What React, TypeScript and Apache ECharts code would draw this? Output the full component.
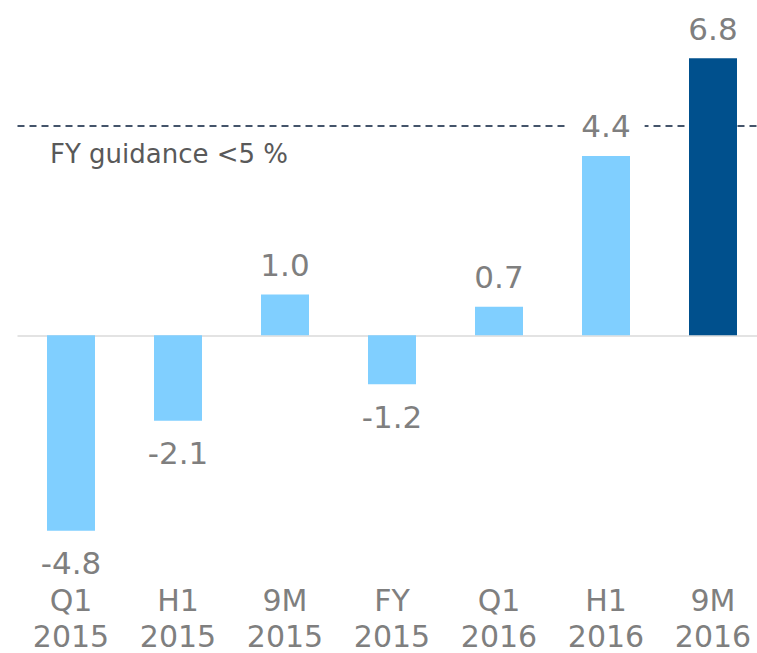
import React, { useEffect, useRef } from "react";
import * as echarts from "echarts";

const categories = ["Q1\n2015", "H1\n2015", "9M\n2015", "FY\n2015", "Q1\n2016", "H1\n2016", "9M\n2016"];
const values = [-4.8, -2.1, 1.0, -1.2, 0.7, 4.4, 6.8];
const highlighted = [false, false, false, false, false, false, true];
const guidanceLevel = 5.15;
const guidanceText = "FY guidance <5 %";

const LIGHT = "#80CFFF";
const DARK = "#00508D";
const FONT = "DejaVu Sans, Verdana, sans-serif";

export default function App() {
  const ref = useRef<HTMLDivElement>(null);
  useEffect(() => {
    if (!ref.current) return;
    const chart = echarts.init(ref.current, undefined, { renderer: "svg" });
    const data = values.map((v, i) => ({
      value: v,
      itemStyle: { color: highlighted[i] ? DARK : LIGHT },
      label: {
        position: v >= 0 ? "top" : "bottom",
        distance: v >= 0 ? 14 : 17,
      },
    }));
    chart.setOption({
      animation: false,
      backgroundColor: "#ffffff",
      grid: {
        left: 17.5,
        top: 50,
        width: 749,
        height: 489,
        containLabel: false,
        outerBoundsMode: "none",
      },
      xAxis: {
        type: "category",
        data: categories,
        axisLine: { show: false, onZero: false },
        axisTick: { show: false },
        splitLine: { show: false },
        axisLabel: {
          color: "#7F7F7F",
          fontFamily: FONT,
          fontSize: 30,
          lineHeight: 36,
          margin: 43,
          interval: 0,
        },
      },
      yAxis: {
        type: "value",
        min: -5,
        max: 7,
        show: false,
        splitLine: { show: false },
      },
      series: [
        {
          type: "line",
          data: [],
          z: 1,
          silent: true,
          markLine: {
            silent: true,
            z: 1,
            symbol: ["none", "none"],
            label: { show: false },
            data: [
              { yAxis: 0, lineStyle: { color: "#E3E3E3", width: 2, type: "solid" } },
              { yAxis: guidanceLevel, lineStyle: { color: "#44546A", width: 2, type: [7, 5] } },
            ],
          },
        },
        {
          type: "bar",
          data,
          barWidth: 48,
          z: 3,
          label: {
            show: true,
            color: "#7F7F7F",
            fontFamily: FONT,
            fontSize: 31,
            backgroundColor: "#ffffff",
            padding: [0, 14],
            formatter: (p: any) => Number(p.value).toFixed(1),
          },
        },
      ],
      graphic: [
        {
          type: "text",
          left: 50,
          top: 141,
          z: 10,
          style: {
            text: guidanceText,
            fill: "#595959",
            font: `26px ${FONT}`,
          },
        },
      ],
    });
    return () => chart.dispose();
  }, []);
  return (
    <div
      ref={ref}
      style={{ position: "absolute", left: 0, top: 0, width: 757, height: 653 }}
    />
  );
}
